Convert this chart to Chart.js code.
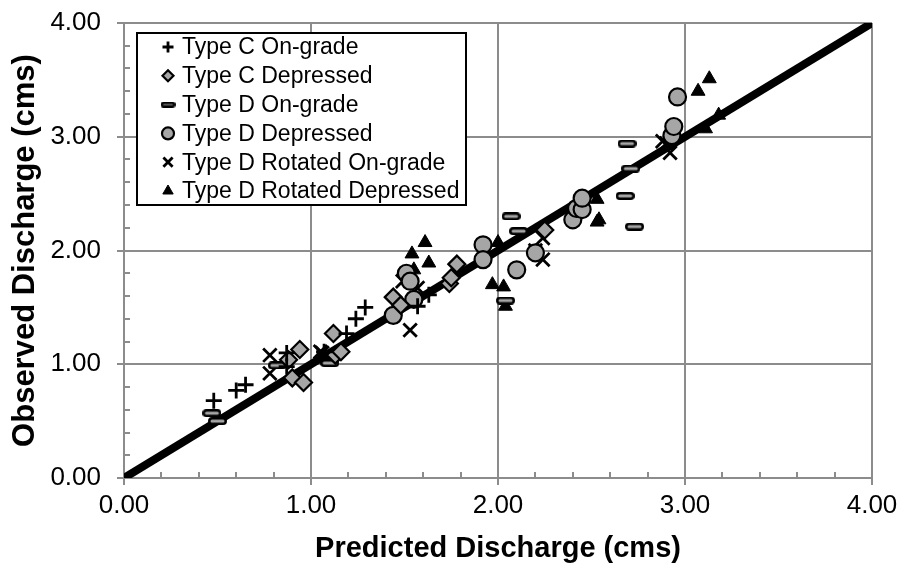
<!DOCTYPE html>
<html>
<head>
<meta charset="utf-8">
<script src="https://cdn.jsdelivr.net/npm/chart.js@4/dist/chart.umd.min.js"></script>
<style>
  html, body { margin: 0; padding: 0; background: #fff; }
  #wrap { width: 904px; height: 569px; }
</style>
</head>
<body>
<div id="wrap"><canvas id="c" width="904" height="569"></canvas></div>
<script>
// Predicted vs observed discharge (cms) for each inlet configuration
const seriesNames = [
  'Type C On-grade', 'Type C Depressed', 'Type D On-grade',
  'Type D Depressed', 'Type D Rotated On-grade', 'Type D Rotated Depressed'
];

const typeCOnGradeX = [0.48, 0.60, 0.65, 0.87, 0.87, 1.07, 1.19, 1.24, 1.29, 1.57, 1.63];
const typeCOnGradeY = [0.68, 0.77, 0.82, 1.10, 0.98, 1.11, 1.27, 1.40, 1.50, 1.51, 1.61];

const typeCDepressedX = [0.88, 0.94, 0.90, 0.96, 1.12, 1.13, 1.16, 1.44, 1.48, 1.74, 1.75, 1.78, 2.25];
const typeCDepressedY = [1.04, 1.13, 0.88, 0.84, 1.27, 1.08, 1.11, 1.59, 1.52, 1.71, 1.76, 1.88, 2.18];

const typeDOnGradeX = [0.47, 0.50, 0.82, 1.10, 2.04, 2.07, 2.11, 2.68, 2.69, 2.71, 2.73];
const typeDOnGradeY = [0.57, 0.50, 0.99, 1.01, 1.56, 2.30, 2.17, 2.48, 2.94, 2.72, 2.21];

const typeDDepressedX = [1.44, 1.51, 1.53, 1.55, 1.92, 1.92, 2.10, 2.20, 2.40, 2.42, 2.45, 2.45, 2.93, 2.94, 2.96];
const typeDDepressedY = [1.43, 1.80, 1.73, 1.57, 2.05, 1.92, 1.83, 1.98, 2.27, 2.37, 2.36, 2.46, 3.01, 3.09, 3.35];

const typeDRotOnGradeX = [0.78, 0.78, 1.05, 1.06, 1.49, 1.53, 1.57, 2.20, 2.24, 2.24, 2.88, 2.90, 2.92];
const typeDRotOnGradeY = [1.08, 0.92, 1.11, 1.10, 1.73, 1.30, 1.67, 2.00, 2.11, 1.92, 2.96, 2.94, 2.86];

const typeDRotDepressedX = [1.54, 1.55, 1.61, 1.63, 1.97, 2.00, 2.03, 2.04, 2.53, 2.53, 2.54, 3.07, 3.11, 3.13, 3.18];
const typeDRotDepressedY = [1.97, 1.83, 2.07, 1.89, 1.70, 2.07, 1.68, 1.51, 2.45, 2.25, 2.27, 3.40, 3.07, 3.51, 3.19];

// 1:1 agreement line
const equalityLineX = [0, 4];
const equalityLineY = [0, 4];

const axisMin = 0, axisMax = 4, majorStep = 1, minorStep = 0.2;
const xTitle = 'Predicted Discharge (cms)';
const yTitle = 'Observed Discharge (cms)';

const FONT = "'Liberation Sans', Arial, sans-serif";
const GRAY = '#a6a6a6';
const GRID = '#8c8c8c';

function pairs(xs, ys) { return xs.map((x, i) => ({ x: x, y: ys[i] })); }

// rounded bar marker for the Type D On-grade series
function dashMarker(w, h, lw) {
  const c = document.createElement('canvas');
  c.width = w; c.height = h;
  const g = c.getContext('2d');
  const r = (h - lw) / 2;
  const o = lw / 2;
  g.beginPath();
  g.moveTo(o + r, o);
  g.lineTo(w - o - r, o);
  g.arc(w - o - r, h / 2, r, -Math.PI / 2, Math.PI / 2);
  g.lineTo(o + r, h - o);
  g.arc(o + r, h / 2, r, Math.PI / 2, Math.PI * 1.5);
  g.closePath();
  g.fillStyle = GRAY; g.fill();
  g.lineWidth = lw; g.strokeStyle = '#000'; g.stroke();
  return c;
}
const dashBig = dashMarker(19, 8, 2.5);
const dashSmall = dashMarker(15, 6, 2.5);

const styles = [
  { pointStyle: 'cross',    radius: 8,   bg: '#000', border: '#000', bw: 2.8, legendRadius: 5.5 },
  { pointStyle: 'rectRot',  radius: 8.5, bg: GRAY,   border: '#000', bw: 2.2, legendRadius: 5.5 },
  { pointStyle: dashBig,    radius: 8,   bg: GRAY,   border: '#000', bw: 2,   legendRadius: 5, legendImage: dashSmall },
  { pointStyle: 'circle',   radius: 8.5, bg: GRAY,   border: '#000', bw: 2.2, legendRadius: 6 },
  { pointStyle: 'crossRot', radius: 9.5, bg: '#000', border: '#000', bw: 2.8, legendRadius: 6.5 },
  { pointStyle: 'triangle', radius: 8,   bg: '#000', border: '#000', bw: 1,   legendRadius: 6 }
];

const seriesData = [
  pairs(typeCOnGradeX, typeCOnGradeY),
  pairs(typeCDepressedX, typeCDepressedY),
  pairs(typeDOnGradeX, typeDOnGradeY),
  pairs(typeDDepressedX, typeDDepressedY),
  pairs(typeDRotOnGradeX, typeDRotOnGradeY),
  pairs(typeDRotDepressedX, typeDRotDepressedY)
];

const datasets = seriesData.map((d, i) => ({
  type: 'scatter',
  label: seriesNames[i],
  data: d,
  pointStyle: styles[i].pointStyle,
  pointRadius: styles[i].radius,
  pointHoverRadius: styles[i].radius,
  backgroundColor: styles[i].bg,
  borderColor: styles[i].border,
  borderWidth: styles[i].bw,
  order: 1
}));

datasets.push({
  type: 'line',
  label: '1:1',
  data: pairs(equalityLineX, equalityLineY),
  borderColor: '#000',
  borderWidth: 8,
  pointRadius: 0,
  fill: false,
  order: 10
});

// minor tick marks drawn just inside the plot frame
const minorTicks = {
  id: 'minorTicks',
  afterDatasetsDraw(chart) {
    const { ctx, chartArea: a, scales: { x, y } } = chart;
    ctx.save();
    ctx.strokeStyle = GRID;
    ctx.lineWidth = 2;
    ctx.beginPath();
    for (let v = axisMin; v <= axisMax + 1e-9; v += minorStep) {
      const r = Math.round(v / majorStep);
      if (Math.abs(v - r * majorStep) < 1e-6) continue;
      const px = Math.round(x.getPixelForValue(v));
      ctx.moveTo(px, a.bottom); ctx.lineTo(px, a.bottom - 6);
      const py = Math.round(y.getPixelForValue(v));
      ctx.moveTo(a.left, py); ctx.lineTo(a.left + 6, py);
    }
    ctx.stroke();
    ctx.restore();
  }
};

// framed legend in the upper-left corner of the plot
const framedLegend = {
  id: 'framedLegend',
  afterDraw(chart) {
    const { ctx, chartArea: a } = chart;
    const left = a.left + 13, top = a.top + 10, w = 329, h = 172;
    ctx.save();
    ctx.fillStyle = '#fff';
    ctx.fillRect(left, top, w, h);
    ctx.lineWidth = 2;
    ctx.strokeStyle = '#000';
    ctx.strokeRect(left, top, w, h);
    ctx.font = '23px ' + FONT;
    ctx.textBaseline = 'middle';
    const rowH = 28.8;
    for (let i = 0; i < seriesNames.length; i++) {
      const cy = top + 14 + rowH * i;
      const mx = left + 31;
      const s = styles[i];
      ctx.fillStyle = s.bg;
      ctx.strokeStyle = s.border;
      ctx.lineWidth = s.bw;
      Chart.helpers.drawPoint(ctx, {
        pointStyle: s.legendImage || s.pointStyle,
        radius: s.legendRadius,
        rotation: 0,
        borderWidth: s.bw
      }, mx, cy);
      ctx.fillStyle = '#000';
      ctx.fillText(seriesNames[i], left + 45, cy + 1);
    }
    ctx.restore();
  }
};

const gridColor = (c) => GRID;

new Chart(document.getElementById('c'), {
  data: { datasets: datasets },
  options: {
    responsive: false,
    animation: false,
    events: [],
    layout: { padding: { top: 23, right: 32, left: 0, bottom: 0 } },
    plugins: { legend: { display: false }, tooltip: { enabled: false } },
    scales: {
      x: {
        type: 'linear',
        min: axisMin, max: axisMax,
        border: { color: GRID, width: 2 },
        grid: { color: gridColor, lineWidth: 2, tickLength: 7, tickColor: GRID },
        ticks: {
          stepSize: majorStep, padding: 5,
          color: '#000', font: { family: FONT, size: 26 },
          callback: (v) => v.toFixed(2)
        },
        title: { display: true, text: xTitle, color: '#000', padding: { top: 0, bottom: 3 },
                 font: { family: FONT, size: 29, weight: 'bold' } },
        afterFit(s) { s.height = 91; s.paddingLeft = 0; s.paddingRight = 0; }
      },
      y: {
        type: 'linear',
        min: axisMin, max: axisMax,
        border: { color: GRID, width: 2 },
        grid: { color: gridColor, lineWidth: 2, tickLength: 7, tickColor: GRID },
        ticks: {
          stepSize: majorStep, padding: 16,
          color: '#000', font: { family: FONT, size: 26 },
          callback: (v) => v.toFixed(2)
        },
        title: { display: true, text: yTitle, color: '#000', padding: { top: 7, bottom: 0 },
                 font: { family: FONT, size: 31, weight: 'bold' } },
        afterFit(s) { s.width = 124; s.paddingTop = 0; s.paddingBottom = 0; }
      }
    }
  },
  plugins: [minorTicks, framedLegend]
});
</script>
</body>
</html>
